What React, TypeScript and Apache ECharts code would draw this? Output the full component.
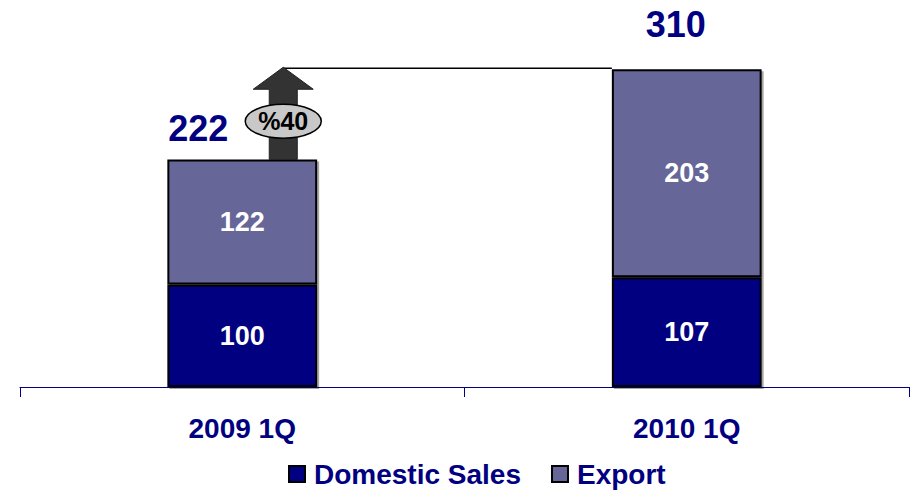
import React, { useEffect, useRef } from "react";
import * as echarts from "echarts";

const categories = ["2009 1Q", "2010 1Q"];
const domesticSales = [100, 107];
const exportSales = [122, 203];
const totals = [222, 310];
const growthText = "%40";

const NAVY = "#000080";
const EXPORT = "#666699";
const FONT = "'Liberation Sans', Arial, sans-serif";

export default function App() {
  const ref = useRef<HTMLDivElement>(null);

  useEffect(() => {
    if (!ref.current) return;
    const chart = echarts.init(ref.current, undefined, { renderer: "svg" });
    const barItem = (color: string) => ({
      color,
      borderColor: "#000",
      borderWidth: 2,
      shadowColor: "rgba(0,0,0,0.35)",
      shadowOffsetX: 2,
      shadowOffsetY: 2,
      shadowBlur: 0,
    });
    const totalOffsets = [
      [-44, -8],
      [-11, -22],
    ];
    const option: any = {
      animation: false,
      backgroundColor: "#fff",
      grid: { left: 20, right: 1, top: 18, bottom: 103, containLabel: false },
      legend: {
        top: 455,
        left: 283,
        itemWidth: 16,
        itemHeight: 16,
        itemGap: 30,
        icon: "rect",
        data: [
          { name: "Domestic Sales", itemStyle: { color: NAVY, borderColor: "#000", borderWidth: 2 } },
          { name: "Export", itemStyle: { color: EXPORT, borderColor: "#000", borderWidth: 2 } },
        ],
        textStyle: {
          fontFamily: FONT,
          fontWeight: "bold",
          fontSize: 28,
          color: NAVY,
          padding: [0, 0, 0, 4],
        },
      },
      xAxis: {
        type: "category",
        data: categories,
        boundaryGap: true,
        axisLine: { lineStyle: { color: NAVY, width: 1 } },
        axisTick: { show: true, length: 10, lineStyle: { color: NAVY } },
        axisLabel: {
          margin: 27,
          fontFamily: FONT,
          fontWeight: "bold",
          fontSize: 28,
          color: NAVY,
        },
      },
      yAxis: {
        type: "value",
        min: 0,
        max: 360,
        show: false,
        splitLine: { show: false },
      },
      series: [
        {
          name: "Domestic Sales",
          type: "bar",
          stack: "total",
          barWidth: "33.7%",
          data: domesticSales,
          itemStyle: barItem(NAVY),
          label: {
            show: true,
            position: "inside",
            fontFamily: FONT,
            fontWeight: "bold",
            fontSize: 27,
            color: "#fff",
          },
        },
        {
          name: "Export",
          type: "bar",
          stack: "total",
          barWidth: "33.7%",
          data: exportSales,
          itemStyle: barItem(EXPORT),
          label: {
            show: true,
            position: "inside",
            fontFamily: FONT,
            fontWeight: "bold",
            fontSize: 27,
            color: "#fff",
          },
        },
        {
          name: "Total",
          type: "scatter",
          symbolSize: 0,
          silent: true,
          itemStyle: { opacity: 1 },
          data: totals.map((t, i) => ({
            value: [i, t],
            label: { offset: totalOffsets[i] },
          })),
          label: {
            show: true,
            position: "top",
            distance: 5,
            formatter: (p: any) => String(p.value[1]),
            fontFamily: FONT,
            fontWeight: "bold",
            fontSize: 36,
            color: NAVY,
            opacity: 1,
          },
        },
      ],
    };
    chart.setOption(option);

    // annotation: growth arrow + connector line, positioned through the axes
    const a = chart.convertToPixel({ xAxisIndex: 0, yAxisIndex: 0 }, [0, totals[0]]) as number[];
    const b = chart.convertToPixel({ xAxisIndex: 0, yAxisIndex: 0 }, [1, totals[1]]) as number[];
    const band = b[0] - a[0];
    const barHalf = (band * 0.337) / 2;
    const ax = a[0] + 41;
    const tipY = b[1] - 2;
    const headBase = tipY + 22;
    const shaftBottom = a[1];
    const headHalf = 30;
    const shaftHalf = 14;
    chart.setOption({
      graphic: [
        {
          type: "line",
          z: 10,
          shape: { x1: ax, y1: b[1] - 1, x2: b[0] - barHalf, y2: b[1] - 1 },
          style: { stroke: "#000", lineWidth: 1.5 },
        },
        {
          type: "polygon",
          z: 11,
          shape: {
            points: [
              [ax, tipY],
              [ax + headHalf, headBase],
              [ax + shaftHalf, headBase],
              [ax + shaftHalf, shaftBottom],
              [ax - shaftHalf, shaftBottom],
              [ax - shaftHalf, headBase],
              [ax - headHalf, headBase],
            ],
          },
          style: { fill: "#333333", stroke: "#222", lineWidth: 1 },
        },
        {
          type: "ellipse",
          z: 12,
          shape: { cx: ax, cy: headBase + 32, rx: 38, ry: 17 },
          style: { fill: "#c8c8c8", stroke: "#000", lineWidth: 1.5 },
        },
        {
          type: "text",
          z: 13,
          x: ax,
          y: headBase + 32,
          style: {
            text: growthText,
            fill: "#000",
            font: `bold 25px ${FONT}`,
            align: "center",
            verticalAlign: "middle",
          },
        },
      ],
    });

    return () => chart.dispose();
  }, []);

  return (
    <div
      ref={ref}
      style={{ position: "fixed", left: 0, top: 0, width: 910, height: 490 }}
    />
  );
}
